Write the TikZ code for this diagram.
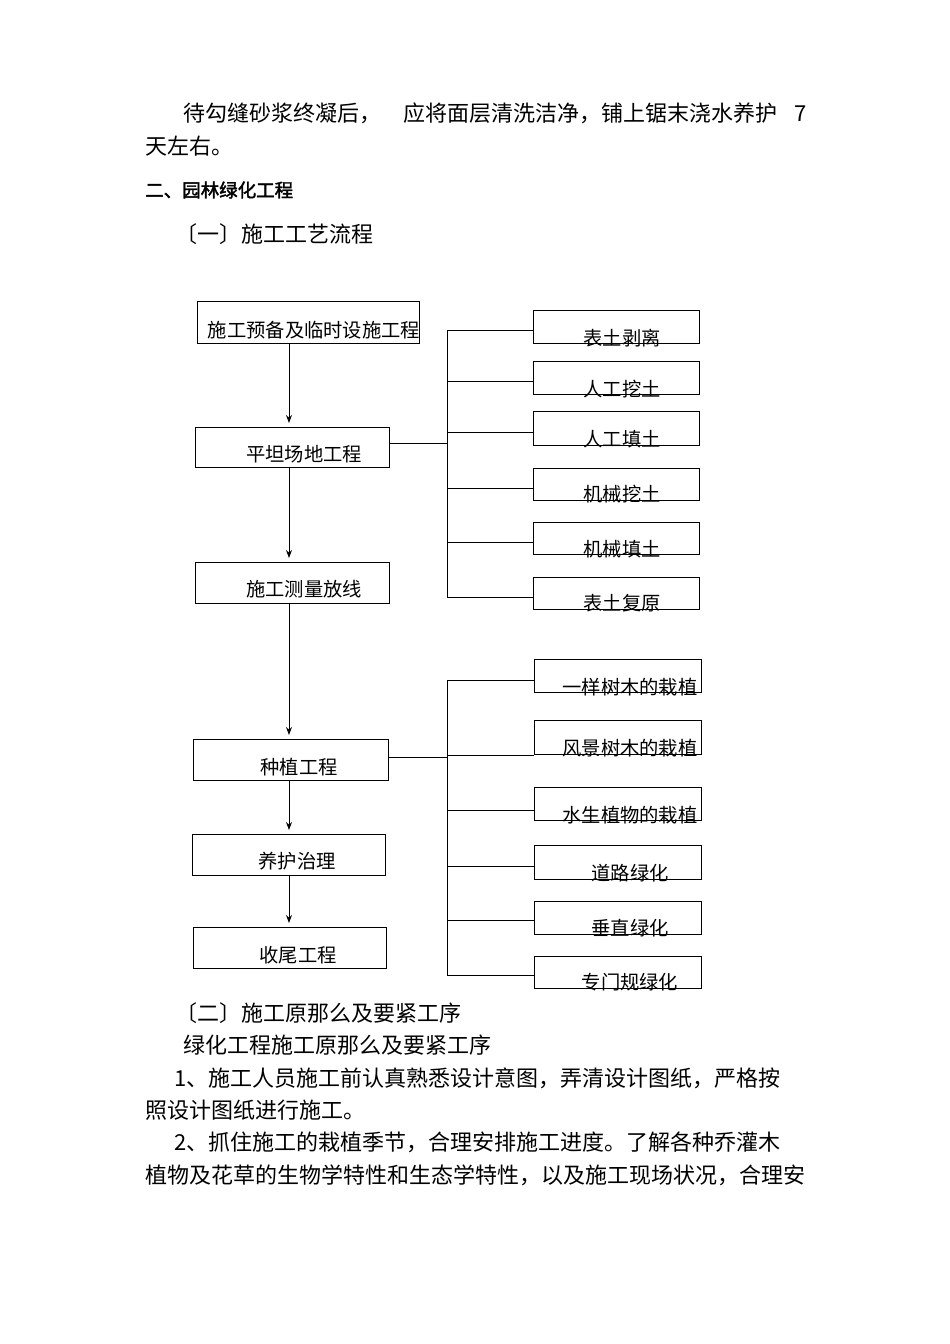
\documentclass[tikz,border=0pt]{standalone}
\usepackage{fontspec}
\usetikzlibrary{arrows.meta}
\setmainfont{Noto Sans CJK SC}
\newfontfamily\cjkb[FakeBold=2]{Noto Sans CJK SC}
\begin{document}
\begin{tikzpicture}[x=1pt,y=-1pt,
  bx/.style={draw,line width=1pt},
  lb/.style={inner sep=0,font=\fontsize{19.3}{19}\selectfont},
  tx/.style={inner sep=0,anchor=west,font=\fontsize{22}{22}\selectfont},
  ln/.style={line width=1pt},
  ar/.style={line width=1pt,-{Stealth[length=8pt,width=6pt]}}]
\useasboundingbox (0,0) rectangle (950,1344);
% paragraph text
\node[tx] (t1) at (183,113) {待勾缝砂浆终凝后，\hspace{1em}应将面层清洗洁净，铺上锯末浇水养护\hspace{0.8em}7};
\node[tx] (t2) at (145,146) {天左右。};
\node[tx,font=\fontsize{18.5}{18}\selectfont\cjkb] (t3) at (145,190) {二、园林绿化工程};
\node[tx] (t4) at (175,234) {〔一〕施工工艺流程};
\node[tx] (t5) at (175,1013) {〔二〕施工原那么及要紧工序};
\node[tx] (t6) at (183,1045) {绿化工程施工原那么及要紧工序};
\node[tx] (t7) at (174,1078) {1、施工人员施工前认真熟悉设计意图，弄清设计图纸，严格按};
\node[tx] (t8) at (145,1110) {照设计图纸进行施工。};
\node[tx] (t9) at (174,1142) {2、抓住施工的栽植季节，合理安排施工进度。了解各种乔灌木};
\node[tx] (t10) at (145,1175) {植物及花草的生物学特性和生态学特性，以及施工现场状况，合理安};
% left column boxes
\draw[bx] (197,301) rectangle (419,343); \node[lb] (L1) at (314,330) {施工预备及临时设施工程};
\draw[bx] (195,427) rectangle (389,467); \node[lb] (L2) at (304,454) {平坦场地工程};
\draw[bx] (195,562) rectangle (389,603); \node[lb] (L3) at (304,589) {施工测量放线};
\draw[bx] (193,739) rectangle (388,780); \node[lb] (L4) at (299,767) {种植工程};
\draw[bx] (192,834) rectangle (385,875); \node[lb] (L5) at (297,861) {养护治理};
\draw[bx] (193,927) rectangle (386,968); \node[lb] (L6) at (298,955) {收尾工程};
\coordinate (a1) at (289,343); \coordinate (b1) at (289,423);
\coordinate (a2) at (289,467); \coordinate (b2) at (289,558);
\coordinate (a3) at (289,603); \coordinate (b3) at (289,735);
\coordinate (a4) at (289,780); \coordinate (b4) at (289,830);
\coordinate (a5) at (289,875); \coordinate (b5) at (289,923);
\draw[ar] (a1)--(b1); \draw[ar] (a2)--(b2); \draw[ar] (a3)--(b3); \draw[ar] (a4)--(b4); \draw[ar] (a5)--(b5);
% group 1
\coordinate (g1) at (389,443); \coordinate (g1v) at (447,443);
\draw[ln] (g1)--(g1v);
\draw[ln] (447,330)--(447,597);
\foreach \ya/\yb/\yl/\t/\n in {310/343/338/表土剥离/r1,361/394/389/人工挖土/r2,411/445/439/人工填土/r3,468/500/494/机械挖土/r4,522/554/549/机械填土/r5,577/609/603/表土复原/r6}{
  \draw[bx] (533,\ya) rectangle (699,\yb);
  \node[lb] (\n) at (622,\yl) {\t};
}
\foreach \y in {330,381,432,488,542,597} \draw[ln] (447,\y)--(533,\y);
% group 2
\coordinate (g2) at (388,757); \coordinate (g2v) at (447,757);
\draw[ln] (g2)--(g2v);
\draw[ln] (447,680)--(447,975);
\foreach \ya/\yb/\yl/\t/\n in {659/692/687/一样树木的栽植/s1,720/754/748/风景树木的栽植/s2,787/820/815/水生植物的栽植/s3,845/879/873/道路绿化/s4,901/934/928/垂直绿化/s5,956/988/982/专门规绿化/s6}{
  \draw[bx] (534,\ya) rectangle (701,\yb);
  \node[lb] (\n) at (630,\yl) {\t};
}
\foreach \y in {680,755,810,866,920,975} \draw[ln] (447,\y)--(534,\y);
\end{tikzpicture}
\end{document}
